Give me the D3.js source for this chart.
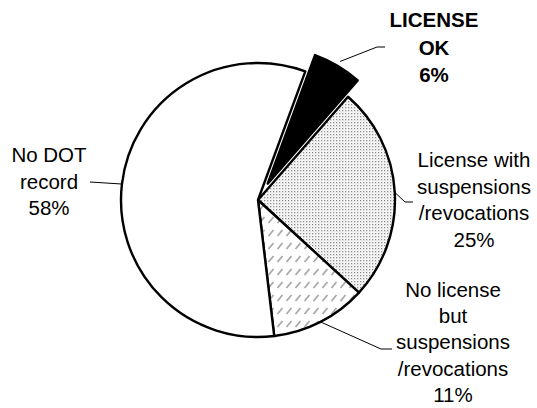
<!DOCTYPE html>
<html>
<head>
<meta charset="utf-8">
<script src="https://cdn.jsdelivr.net/npm/d3@7"></script>
<style>
    body { margin: 0; background: #fff; }
    text { font-family: "Liberation Sans", Arial, sans-serif; font-size: 20.5px; fill: #000; }
</style>
</head>
<body>
<div id="chart"></div>
<script>
"use strict";
(function () {
    // slice data, clockwise from the first slice
    const categories = ["LICENSE OK", "License with suspensions /revocations", "No license but suspensions /revocations", "No DOT record"]
    const shares = [5.8, 25.4, 11.3, 57.5]
    // how each label is broken into lines
    const labelLines = [
        ["LICENSE", "OK"],
        ["License with", "suspensions", "/revocations"],
        ["No license", "but", "suspensions", "/revocations"],
        ["No DOT", "record"]
    ]

    const measurements = { width: 537, height: 408 }
    const cx = 258, cy = 200, radius = 137
    const firstAngle = 20.2 * Math.PI / 180
    const explode = 19

    // label layout: text centre x, first baseline y, line step, leader elbow and end
    const labelLayout = [
        { x: 434, y: 27, step: 27.6, bold: true, leader: [[377, 47], [385, 47]], r: 142 },
        { x: 474, y: 167, step: 26.6, leader: [[405, 202], [413, 202]], r: 137 },
        { x: 453, y: 297, step: 26.2, leader: [[381, 349], [392, 349]], r: 137 },
        { x: 49, y: 162, step: 26.5, leader: [[90, 182]], r: 137 }
    ]

    const svg = d3.select("#chart").append("svg")
        .attr("width", measurements.width)
        .attr("height", measurements.height)

    const defs = svg.append("defs")
    const dots = defs.append("pattern")
        .attr("id", "dots")
        .attr("patternUnits", "userSpaceOnUse")
        .attr("width", 3).attr("height", 3)
    dots.append("rect").attr("width", 3).attr("height", 3).attr("fill", "#fff")
    dots.append("rect").attr("width", 1.3).attr("height", 1.3).attr("fill", "#8a8a8a")
    dots.append("rect").attr("x", 1.5).attr("y", 1.5).attr("width", 1).attr("height", 1).attr("fill", "#c8c8c8")

    const hatch = defs.append("pattern")
        .attr("id", "hatch")
        .attr("patternUnits", "userSpaceOnUse")
        .attr("width", 9).attr("height", 13)
    hatch.append("rect").attr("width", 9).attr("height", 13).attr("fill", "#fff")
    hatch.append("path").attr("d", "M1.5,10 L6.5,4").attr("stroke", "#a8a8a8").attr("stroke-width", 1.8)

    const fills = ["#000", "url(#dots)", "url(#hatch)", "#fff"]

    const pie = d3.pie()
        .sort(null)
        .value(d => d)
        .startAngle(firstAngle)
        .endAngle(firstAngle + 2 * Math.PI)
    const arcs = pie(shares)

    const arc = d3.arc().innerRadius(0).outerRadius(radius)

    const g = svg.append("g").attr("transform", `translate(${cx},${cy})`)

    // shift for exploded slice
    const offset = (d, i) => {
        if (i !== 0) return [0, 0]
        const mid = (d.startAngle + d.endAngle) / 2
        return [Math.sin(mid) * explode, -Math.cos(mid) * explode]
    }

    g.selectAll(".slice")
        .data(arcs)
        .enter()
        .append("path")
        .attr("class", "slice")
        .attr("transform", (d, i) => `translate(${offset(d, i)})`)
        .attr("d", arc)
        .attr("fill", (d, i) => fills[i])
        .attr("stroke", "#000")
        .attr("stroke-width", 2.4)
        .attr("stroke-linejoin", "round")

    // leader lines
    arcs.forEach((d, i) => {
        const lay = labelLayout[i]
        const mid = (d.startAngle + d.endAngle) / 2
        const off = offset(d, i)
        const start = [cx + off[0] + Math.sin(mid) * lay.r, cy + off[1] - Math.cos(mid) * lay.r]
        const pts = [start].concat(lay.leader)
        svg.append("path")
            .attr("d", d3.line()(pts))
            .attr("fill", "none")
            .attr("stroke", "#000")
            .attr("stroke-width", 1)
    })

    // labels
    arcs.forEach((d, i) => {
        const lay = labelLayout[i]
        const lines = labelLines[i].concat([Math.round(shares[i]) + "%"])
        const t = svg.append("text")
            .attr("text-anchor", "middle")
            .attr("font-weight", lay.bold ? "bold" : null)
        lines.forEach((s, k) => {
            t.append("tspan")
                .attr("x", lay.x)
                .attr("y", lay.y + k * lay.step)
                .text(s)
        })
    })
})()
</script>
</body>
</html>
